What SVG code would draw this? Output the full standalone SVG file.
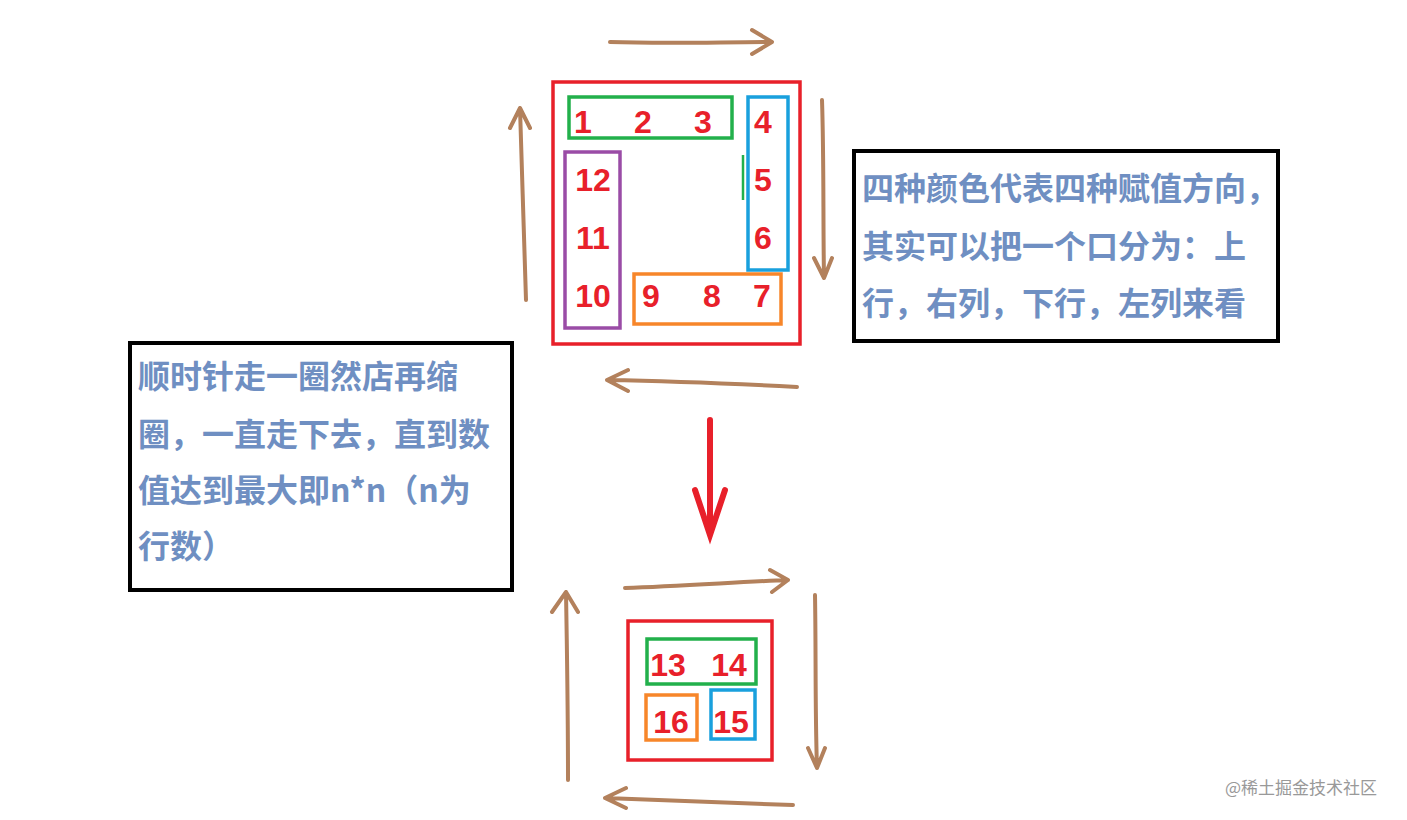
<svg xmlns="http://www.w3.org/2000/svg" width="1407" height="820" viewBox="0 0 1407 820">
<style>
.n{font-family:"Liberation Sans",sans-serif;font-weight:bold;font-size:32px;fill:#e8202a;text-anchor:middle}
.t{font-family:"Noto Sans CJK SC","Liberation Sans",sans-serif;font-weight:bold;font-size:32px;fill:#6f8fc2}
.a{fill:none;stroke:#b3815c;stroke-width:4;stroke-linecap:round;stroke-linejoin:round}
</style>
<rect width="1407" height="820" fill="#fff"/>
<g id="top-square" fill="none" stroke-width="3.5">
<rect x="553" y="82" width="247" height="262" stroke="#e8202a"/>
<rect x="569" y="97" width="163" height="41" stroke="#22b04b"/>
<rect x="748" y="97" width="40" height="173" stroke="#19a0dd"/>
<rect x="565" y="152" width="55" height="176" stroke="#9a4ca6"/>
<rect x="634" y="274" width="147" height="50" stroke="#f7862a"/>
<line x1="743" y1="155" x2="743" y2="200" stroke="#22b04b" stroke-width="2.5"/>
</g>
<g id="top-numbers">
<text class="n" x="583" y="133">1</text><text class="n" x="643" y="133">2</text><text class="n" x="703" y="133">3</text>
<text class="n" x="763" y="133">4</text><text class="n" x="763" y="191">5</text><text class="n" x="763" y="249">6</text>
<text class="n" x="762" y="307">7</text><text class="n" x="712" y="307">8</text><text class="n" x="651" y="307">9</text>
<text class="n" x="593" y="307">10</text><text class="n" x="593" y="249">11</text><text class="n" x="593" y="191">12</text>
</g>
<g id="bottom-square" fill="none" stroke-width="3.5">
<rect x="628" y="621" width="144" height="139" stroke="#e8202a"/>
<rect x="647" y="639" width="109" height="45" stroke="#22b04b"/>
<rect x="646" y="695" width="51" height="45" stroke="#f7862a"/>
<rect x="711" y="690" width="44" height="49" stroke="#19a0dd"/>
</g>
<g id="bottom-numbers">
<text class="n" x="668" y="676">13</text><text class="n" x="729" y="676">14</text>
<text class="n" x="731" y="733">15</text><text class="n" x="671" y="733">16</text>
</g>
<g id="connectors">
<path class="a" d="M610 42 C670 44 720 42 770 42 M752 30 L772 42 L752 54"/>
<path class="a" d="M822 100 C824 160 823 220 824 278 M814 258 L824 278 L832 258"/>
<path class="a" d="M797 387 C740 384 670 381 607 380 M628 370 L607 380 L628 391"/>
<path class="a" d="M526 300 C524 240 522 170 520 108 M510 128 L520 108 L530 128"/>
<path class="a" d="M625 588 C680 586 740 582 788 580 M770 570 L788 580 L772 592"/>
<path class="a" d="M815 595 C816 650 815 710 817 768 M808 748 L817 768 L825 748"/>
<path class="a" d="M793 805 C730 803 660 800 605 798 M626 788 L605 798 L626 808"/>
<path class="a" d="M568 780 C568 720 567 650 566 592 M552 612 L566 592 L578 612"/>
<path d="M710 420 L710 535 M695 490 L710 535 L725 490" fill="none" stroke="#e8202a" stroke-width="6" stroke-linecap="round"/>
</g>
<g id="right-note">
<rect x="854" y="151" width="424" height="190" fill="none" stroke="#000" stroke-width="4"/>
<text class="t" x="862" y="200">四种颜色代表四种赋值方向，</text>
<text class="t" x="862" y="258">其实可以把一个口分为：上</text>
<text class="t" x="862" y="315">行，右列，下行，左列来看</text>
</g>
<g id="left-note">
<rect x="130" y="343" width="382" height="247" fill="none" stroke="#000" stroke-width="4"/>
<text class="t" x="138" y="388">顺时针走一圈然店再缩</text>
<text class="t" x="138" y="446">圈，一直走下去，直到数</text>
<text class="t" x="138" y="502">值达到最大即n*n（n为</text>
<text class="t" x="138" y="558">行数）</text>
</g>
<text x="1225" y="794" font-family="Noto Sans CJK SC,sans-serif" font-size="17" fill="#999">@稀土掘金技术社区</text>
</svg>
